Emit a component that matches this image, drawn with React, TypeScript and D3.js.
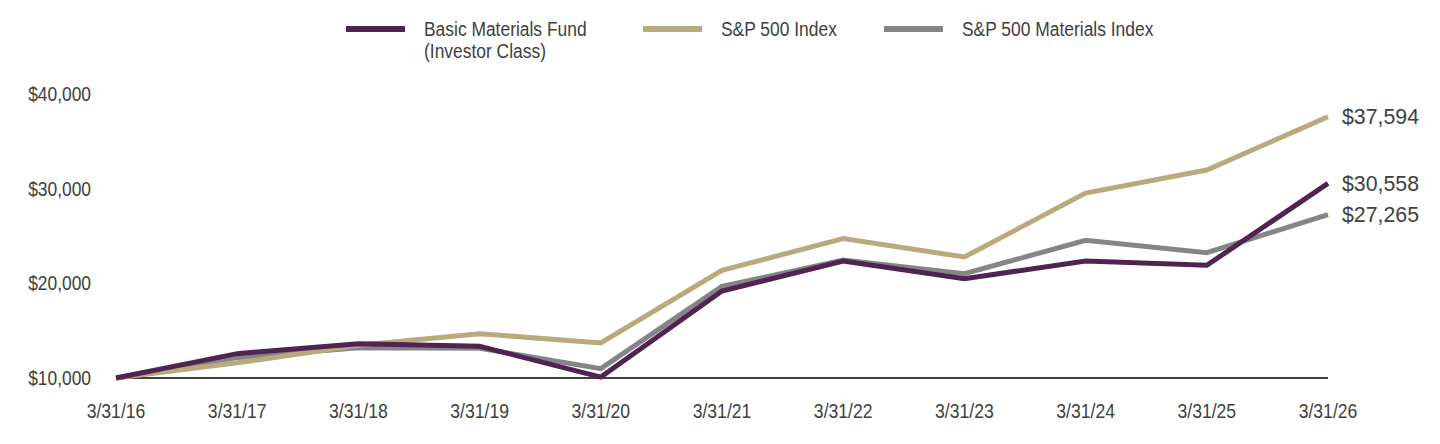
import React from "react";
import * as d3 from "d3";

// Growth of a $10,000 investment, fiscal year-ends
const dates = [
  "3/31/16", "3/31/17", "3/31/18", "3/31/19", "3/31/20", "3/31/21",
  "3/31/22", "3/31/23", "3/31/24", "3/31/25", "3/31/26",
];
const fundValues = [10000, 12570, 13630, 13350, 10100, 19190, 22360, 20490, 22360, 21900, 30558];
const sp500Values = [10000, 11600, 13450, 14680, 13700, 21370, 24720, 22780, 29540, 31970, 37594];
const materialsValues = [10000, 12150, 13200, 13150, 10990, 19680, 22450, 21020, 24540, 23240, 27265];
const yTicks = [10000, 20000, 30000, 40000];

const seriesNames = ["Basic Materials Fund|(Investor Class)", "S&P 500 Index", "S&P 500 Materials Index"];
const seriesColors = ["#512350", "#B8AA7C", "#858589"];

const W = 1440;
const H = 444;
const font = "'Liberation Sans', Arial, sans-serif";
const textColor = "#404040";

// condensed text: regular sans squeezed horizontally around its anchor
function NarrowText(props: {
  x: number;
  y: number;
  size: number;
  squeeze: number;
  anchor?: "start" | "middle" | "end";
  dy?: string;
  lines: string[];
  lineGap?: number;
}) {
  const { x, y, size, squeeze, anchor = "start", dy, lines, lineGap = size } = props;
  return (
    <text
      transform={`translate(${x},${y}) scale(${squeeze},1)`}
      textAnchor={anchor}
      fontFamily={font}
      fontSize={size}
      fill={textColor}
      dy={dy}
    >
      {lines.map((t, j) => (
        <tspan key={j} x={0} y={j * lineGap}>
          {t}
        </tspan>
      ))}
    </text>
  );
}

export default function App() {
  const x = d3.scalePoint<string>().domain(dates).range([116, 1328]);
  const y = d3.scaleLinear().domain([10000, 40000]).range([378, 94]);
  const money = (v: number) => "$" + d3.format(",")(v);

  const series = [
    { name: seriesNames[0], color: seriesColors[0], values: fundValues },
    { name: seriesNames[1], color: seriesColors[1], values: sp500Values },
    { name: seriesNames[2], color: seriesColors[2], values: materialsValues },
  ];
  // paint order: materials, S&P 500, then the fund on top
  const drawOrder = [series[2], series[1], series[0]];

  const line = d3
    .line<number>()
    .x((_, i) => x(dates[i]) as number)
    .y((v) => y(v));

  const legendX = [346, 643, 884];

  return (
    <svg width={W} height={H} style={{ position: "absolute", left: 0, top: 0, background: "#fff" }}>
      {/* legend */}
      {series.map((s, i) => (
        <g key={s.name}>
          <line x1={legendX[i]} x2={legendX[i] + 59} y1={29} y2={29} stroke={s.color} strokeWidth={6} />
          <NarrowText x={legendX[i] + 78} y={36} size={21} squeeze={0.83} lines={s.name.split("|")} lineGap={22} />
        </g>
      ))}

      {/* y-axis labels */}
      {yTicks.map((t) => (
        <NarrowText key={t} x={91} y={y(t) + 7} size={20} squeeze={0.87} anchor="end" lines={[money(t)]} />
      ))}

      {/* x-axis labels */}
      {dates.map((d) => (
        <NarrowText key={d} x={x(d) as number} y={418} size={20} squeeze={0.88} anchor="middle" lines={[d]} />
      ))}

      {/* baseline */}
      <line
        x1={x(dates[0])}
        x2={x(dates[dates.length - 1])}
        y1={y(10000)}
        y2={y(10000)}
        stroke="#404040"
        strokeWidth={2}
      />

      {/* series lines */}
      {drawOrder.map((s) => (
        <path key={s.name} d={line(s.values) || ""} fill="none" stroke={s.color} strokeWidth={5} strokeLinejoin="miter" />
      ))}

      {/* ending values */}
      {series.map((s) => {
        const v = s.values[s.values.length - 1];
        return (
          <text key={s.name} x={1342} y={y(v)} dy="0.35em" fontFamily={font} fontSize={21.3} fill={textColor}>
            {money(v)}
          </text>
        );
      })}
    </svg>
  );
}
